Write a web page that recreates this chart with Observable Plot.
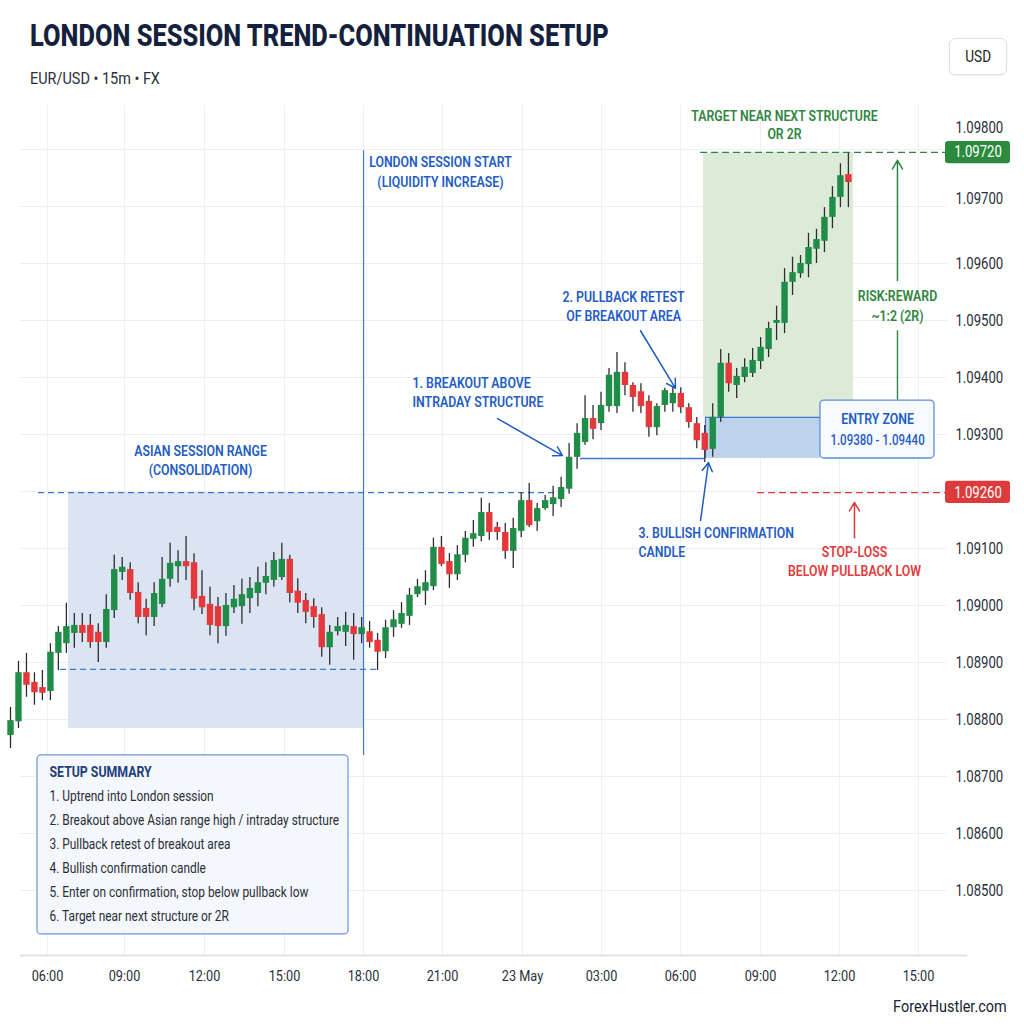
<!DOCTYPE html>
<html><head><meta charset="utf-8">
<script src="https://cdn.jsdelivr.net/npm/d3@7"></script>
<script src="https://cdn.jsdelivr.net/npm/@observablehq/plot@0.6"></script>
<style>
body{margin:0;background:#fff;font-family:Roboto,sans-serif;}
#wrap{position:relative;width:1024px;height:1024px;overflow:hidden;background:#fff}
.cond{position:absolute;white-space:nowrap;transform-origin:left top}
</style></head><body><div id="wrap">
<div id="title" class="cond" style="left:30px;top:17px;font-size:31px;font-weight:800;color:#14213d;transform:scaleX(0.82)">LONDON SESSION TREND-CONTINUATION SETUP</div>
<div id="sub" class="cond" style="left:30px;top:68px;font-size:17px;color:#2b2f3a;transform:scaleX(0.85)">EUR/USD • 15m • FX</div>
<div id="usd" style="position:absolute;left:949px;top:38px;width:58px;height:37px;box-sizing:border-box;border:1px solid #dcdfe4;border-radius:6px;box-shadow:0 1px 2px rgba(0,0,0,.06);display:flex;align-items:center;justify-content:center;font-size:16px;color:#222"><span style="display:inline-block;transform:scaleX(0.85)">USD</span></div>
<div id="chart" style="position:absolute;left:0;top:95px"></div>
<div id="credit" class="cond" style="right:17px;top:996px;font-size:17px;color:#1a2233;transform:scaleX(0.85);transform-origin:right top">ForexHustler.com</div>
</div>
<script>
// ---------- data ----------
const open  = [1.08772,1.08796,1.08882,1.08865,1.08856,1.08849,1.08916,1.08933,1.08951,1.08965,1.08965,1.08953,1.08935,1.08991,1.09058,1.09063,1.09023,1.08995,1.08979,1.09002,1.09046,1.09068,1.09077,1.09075,1.09016,1.09002,1.08998,1.08963,1.08996,1.08998,1.09012,1.09021,1.09039,1.09044,1.09049,1.09081,1.09025,1.09009,1.08998,1.08984,1.08926,1.08954,1.08953,1.08963,1.08949,1.08954,1.08939,1.08919,1.08961,1.08967,1.08981,1.09019,1.09025,1.09033,1.09102,1.09077,1.09054,1.09088,1.09116,1.09121,1.09163,1.09137,1.09128,1.09095,1.09130,1.09184,1.09147,1.09170,1.09177,1.09186,1.09204,1.09260,1.09286,1.09328,1.09319,1.09349,1.09349,1.09409,1.09386,1.09375,1.09358,1.09312,1.09351,1.09354,1.09372,1.09347,1.09319,1.09302,1.09274,1.09330,1.09425,1.09386,1.09400,1.09407,1.09428,1.09449,1.09495,1.09495,1.09567,1.09582,1.09598,1.09625,1.09639,1.09681,1.09716,1.09756];
const high  = [1.08821,1.08902,1.08916,1.08882,1.08886,1.08933,1.08963,1.09004,1.08986,1.08986,1.08984,1.08968,1.09019,1.09088,1.09084,1.09075,1.09040,1.09011,1.09040,1.09084,1.09109,1.09096,1.09121,1.09091,1.09061,1.09032,1.09014,1.09021,1.09035,1.09046,1.09049,1.09067,1.09075,1.09093,1.09109,1.09088,1.09047,1.09021,1.09012,1.08996,1.08965,1.08979,1.08988,1.08986,1.08979,1.08972,1.08951,1.08974,1.08991,1.09005,1.09030,1.09046,1.09061,1.09118,1.09121,1.09091,1.09105,1.09130,1.09149,1.09188,1.09179,1.09146,1.09144,1.09153,1.09198,1.09214,1.09179,1.09193,1.09209,1.09225,1.09284,1.09319,1.09368,1.09351,1.09374,1.09416,1.09444,1.09426,1.09391,1.09389,1.09368,1.09354,1.09381,1.09382,1.09382,1.09354,1.09330,1.09316,1.09354,1.09449,1.09442,1.09416,1.09433,1.09451,1.09470,1.09497,1.09525,1.09591,1.09611,1.09614,1.09653,1.09660,1.09698,1.09735,1.09775,1.09793];
const low   = [1.08749,1.08784,1.08839,1.08825,1.08833,1.08833,1.08886,1.08916,1.08925,1.08935,1.08925,1.08900,1.08925,1.08977,1.09044,1.09009,1.08968,1.08947,1.08963,1.08996,1.09032,1.09039,1.09044,1.08991,1.08984,1.08947,1.08933,1.08946,1.08986,1.08967,1.08986,1.08998,1.09019,1.09032,1.09044,1.09005,1.08986,1.08968,1.08960,1.08909,1.08895,1.08947,1.08928,1.08904,1.08933,1.08925,1.08886,1.08907,1.08944,1.08960,1.08965,1.09014,1.09000,1.09026,1.09068,1.09030,1.09044,1.09075,1.09102,1.09112,1.09114,1.09114,1.09081,1.09065,1.09119,1.09137,1.09130,1.09167,1.09156,1.09172,1.09195,1.09239,1.09281,1.09291,1.09307,1.09339,1.09337,1.09368,1.09339,1.09337,1.09295,1.09298,1.09339,1.09339,1.09337,1.09311,1.09275,1.09251,1.09260,1.09321,1.09374,1.09363,1.09391,1.09400,1.09414,1.09435,1.09465,1.09477,1.09544,1.09574,1.09575,1.09600,1.09619,1.09661,1.09698,1.09698];
const close = [1.08798,1.08882,1.08860,1.08847,1.08846,1.08918,1.08953,1.08963,1.08965,1.08951,1.08935,1.08935,1.08993,1.09063,1.09067,1.09021,1.08979,1.08979,1.09021,1.09046,1.09074,1.09077,1.09068,1.09011,1.08996,1.08965,1.08963,1.09000,1.09011,1.09019,1.09030,1.09040,1.09051,1.09079,1.09081,1.09021,1.09004,1.08988,1.08979,1.08926,1.08953,1.08963,1.08965,1.08949,1.08961,1.08935,1.08918,1.08961,1.08975,1.08986,1.09018,1.09033,1.09040,1.09102,1.09072,1.09054,1.09089,1.09118,1.09126,1.09163,1.09128,1.09128,1.09095,1.09135,1.09184,1.09140,1.09170,1.09184,1.09189,1.09207,1.09260,1.09302,1.09328,1.09309,1.09351,1.09404,1.09409,1.09386,1.09365,1.09349,1.09312,1.09349,1.09377,1.09372,1.09347,1.09321,1.09289,1.09272,1.09330,1.09425,1.09389,1.09402,1.09418,1.09430,1.09453,1.09486,1.09500,1.09567,1.09584,1.09600,1.09628,1.09642,1.09681,1.09716,1.09754,1.09742];

const timeLabels   = ["06:00","09:00","12:00","15:00","18:00","21:00","23 May","03:00","06:00","09:00","12:00","15:00"];
const timeTickBars = [4.64,14.29,24.31,34.34,44.24,54.14,64.16,74.06,83.96,93.98,103.88,113.78];
const priceTicks   = [1.085,1.086,1.087,1.088,1.089,1.090,1.091,1.093,1.094,1.095,1.096];
const upperTicks   = [1.097, 1.098];
const gridPrices   = [1.085,1.086,1.087,1.088,1.089,1.090,1.091,1.092,1.093,1.094,1.095,1.096,1.097,1.098];

const targetTag = "1.09720", stopTag = "1.09260";
const entryRange = "1.09380 - 1.09440";
const summaryTitle = "SETUP SUMMARY";
const summaryItems = [
  "1. Uptrend into London session",
  "2. Breakout above Asian range high / intraday structure",
  "3. Pullback retest of breakout area",
  "4. Bullish confirmation candle",
  "5. Enter on confirmation, stop below pullback low",
  "6. Target near next structure or 2R"
];

// ---------- layout (in bar / price units) ----------
const BLUE = "#1f5cc4", LINE = "#3a78d6", GREEN = "#2e8540", RED = "#e03c3c";
const UP = "#1f8c48", DOWN = "#e5383b", WICK = "#2d2d2d";

const candles = open.map((o, i) => ({i, o, h: high[i], l: low[i], c: close[i]}));
const labelAt = new Map(timeTickBars.map((b, k) => [b, timeLabels[k]]));
const upperShift = new Map([[1.097, -8], [1.098, -22]]);

const levels = {
  asianTop: 1.09198, asianBottom: 1.08888, asianLow: 1.08784,
  breakout: 1.09258, entryTop: 1.09330, target: 1.09795, stop: 1.09198
};

const rects = [
  {x1: 7.27, x2: 44.24, y1: levels.asianLow, y2: levels.asianTop, fill: "#dae4f3"},
  {x1: 86.84, x2: 105.64, y1: levels.entryTop, y2: levels.target, fill: "#dcebd8"},
  {x1: 87.09, x2: 101.5, y1: levels.breakout, y2: levels.entryTop, fill: "#bdd3eb"}
];

const blueTexts = [
  {x: 53.88, y: 1.097772, t: "LONDON SESSION START"},
  {x: 53.88, y: 1.097421, t: "(LIQUIDITY INCREASE)"},
  {x: 23.81, y: 1.092702, t: "ASIAN SESSION RANGE"},
  {x: 23.81, y: 1.092368, t: "(CONSOLIDATION)"},
  {x: 76.82, y: 1.095404, t: "2. PULLBACK RETEST"},
  {x: 76.82, y: 1.095070, t: "OF BREAKOUT AREA"},
  {x: 108.65, y: 1.093263, t: "ENTRY ZONE"}
];
const blueLeftTexts = [
  {x: 50.38, y: 1.093895, t: "1. BREAKOUT ABOVE"},
  {x: 50.38, y: 1.093561, t: "INTRADAY STRUCTURE"},
  {x: 78.70, y: 1.091263, t: "3. BULLISH CONFIRMATION"},
  {x: 78.70, y: 1.090930, t: "CANDLE"}
];
const greenTexts = [
  {x: 96.99, y: 1.098579, t: "TARGET NEAR NEXT STRUCTURE"},
  {x: 96.99, y: 1.098263, t: "OR 2R"},
  {x: 111.15, y: 1.095421, t: "RISK:REWARD"},
  {x: 111.15, y: 1.095070, t: "~1:2 (2R)"}
];
const redTexts = [
  {x: 105.76, y: 1.090930, t: "STOP-LOSS"},
  {x: 105.76, y: 1.090596, t: "BELOW PULLBACK LOW"}
];

const arrows = [
  {x1: 61.03, y1: 1.09328, x2: 69.17, y2: 1.09263, s: BLUE},
  {x1: 78.95, y1: 1.09482, x2: 83.33, y2: 1.09381, s: BLUE},
  {x1: 86.47, y1: 1.09149, x2: 87.47, y2: 1.09251, s: BLUE},
  {x1: 111.15, y1: 1.09570, x2: 111.15, y2: 1.09781, s: GREEN},
  {x1: 105.76, y1: 1.09119, x2: 105.76, y2: 1.09181, s: RED}
];

const hlines = [
  {y: levels.asianTop, x1: 3.51, x2: 69.55, s: LINE, dash: "6,4", w: 1.3},
  {y: levels.asianBottom, x1: 6.27, x2: 46.37, s: LINE, dash: "6,4", w: 1.3},
  {y: levels.breakout, x1: 71.43, x2: 87.09, s: LINE, dash: null, w: 1.6},
  {y: levels.target, x1: 86.47, x2: 117.17, s: GREEN, dash: "7,4", w: 1.4},
  {y: levels.stop, x1: 93.61, x2: 117.17, s: RED, dash: "7,4", w: 1.3}
];

const tags = [
  {y1: 1.09775, y2: 1.09814, y: levels.target, t: targetTag, fill: "#2b8a3e"},
  {y1: 1.09179, y2: 1.09218, y: levels.stop, t: stopTag, fill: "#dd3b3b"}
];

const summaryBox = {x1: 3.38, x2: 42.36, y1: 1.08423, y2: 1.08737};
const summaryY = [1.086649, 1.086228, 1.085807, 1.085386, 1.084965, 1.084544];
const summaryRows = summaryItems.map((t, k) => ({t, x: 4.89, y: summaryY[k]}));

const chart = Plot.plot({
  width: 1024, height: 929,
  marginTop: 10, marginBottom: 69, marginLeft: 0, marginRight: 85,
  x: {type: "linear", domain: [-1.2531, 116.416]},
  y: {type: "linear", domain: [1.0838596, 1.0987719]},
  style: {fontFamily: "Roboto, sans-serif", color: "#2a2f3a", background: "transparent", overflow: "visible"},
  marks: [
    Plot.ruleX(timeTickBars, {x: d => d, stroke: "#edeff2", strokeWidth: 1}),
    Plot.ruleY(gridPrices, {y: d => d, x1: () => 1.25, x2: () => 117.42, stroke: "#edeff2", strokeWidth: 1}),
    Plot.ruleY([1.0838596], {y: d => d, x1: () => 1.25, x2: () => 119.92, stroke: "#dfe2e6", strokeWidth: 2}),
    Plot.rect(rects, {x1: "x1", x2: "x2", y1: "y1", y2: "y2", fill: d => d.fill}),
    Plot.ruleY([rects[2]], {y: "y2", x1: "x1", x2: "x2", stroke: LINE, strokeWidth: 1.4}),
    Plot.ruleX([rects[2]], {x: "x1", y1: "y1", y2: "y2", stroke: LINE, strokeWidth: 1.2}),
    Plot.ruleX([44.24], {x: d => d, y1: () => 1.08737, y2: () => 1.09798, stroke: LINE, strokeWidth: 1.2}),
    ...hlines.map(h => Plot.ruleY([h], {y: "y", x1: "x1", x2: "x2", stroke: h.s, strokeWidth: h.w, strokeDasharray: h.dash})),
    Plot.ruleX([111.15], {x: d => d, y1: () => 1.09360, y2: () => 1.09482, stroke: GREEN, strokeWidth: 1.4}),
    Plot.ruleX(candles, {x: "i", y1: "l", y2: "h", stroke: WICK, strokeWidth: 1.3}),
    Plot.ruleX(candles.filter(d => d.c >= d.o), {x: "i", y1: "o", y2: "c", stroke: UP, strokeWidth: 6.4}),
    Plot.ruleX(candles.filter(d => d.c < d.o), {x: "i", y1: "o", y2: "c", stroke: DOWN, strokeWidth: 6.4}),
    ...arrows.map(a => Plot.arrow([a], {x1: "x1", y1: "y1", x2: "x2", y2: "y2", stroke: a.s, strokeWidth: 1.5, headLength: 10})),
    // entry label box
    Plot.rect([{x1: 101.5, x2: 115.79, y1: 1.092579, y2: 1.093596}], {x1: "x1", x2: "x2", y1: "y1", y2: "y2", fill: "#f7fafe", stroke: "#5d8fdc", strokeWidth: 1.3, rx: 4}),
    Plot.text([{x: 108.65, y: 1.092895, t: entryRange}], {x: "x", y: "y", text: "t", fill: BLUE, fontSize: 14, fontWeight: 500}),
    // tags
    Plot.rect(tags, {x1: () => 117.17, x2: () => 125.31, y1: "y1", y2: "y2", fill: d => d.fill, rx: 3}),
    Plot.text(tags, {x: () => 121.24, y: "y", text: "t", fill: "white", fontSize: 16}),
    // annotation texts
    Plot.text(blueTexts, {x: "x", y: "y", text: "t", fill: BLUE, fontSize: 15, fontWeight: 600}),
    Plot.text(blueLeftTexts, {x: "x", y: "y", text: "t", fill: BLUE, fontSize: 15, fontWeight: 600, textAnchor: "start"}),
    Plot.text(greenTexts, {x: "x", y: "y", text: "t", fill: GREEN, fontSize: 15, fontWeight: 600}),
    Plot.text(redTexts, {x: "x", y: "y", text: "t", fill: RED, fontSize: 15, fontWeight: 600}),
    // summary
    Plot.rect([summaryBox], {x1: "x1", x2: "x2", y1: "y1", y2: "y2", fill: "#f4f7fc", stroke: "#6d96d8", strokeWidth: 1.2, rx: 4}),
    Plot.text([{x: 4.89, y: 1.08707, t: summaryTitle}], {x: "x", y: "y", text: "t", textAnchor: "start", fill: "#1d3e78", fontSize: 15, fontWeight: 700}),
    Plot.text(summaryRows, {x: "x", y: "y", text: "t", textAnchor: "start", fill: "#2a2e36", fontSize: 14.5}),
    // axes
    Plot.axisY(priceTicks, {anchor: "right", tickSize: 0, tickPadding: 16, tickFormat: d => d.toFixed(5), fontSize: 16, label: null}),
    ...upperTicks.map(v => Plot.axisY([v], {anchor: "right", tickSize: 0, tickPadding: 16, tickFormat: d => d.toFixed(5), fontSize: 16, label: null, dy: upperShift.get(v)})),
    Plot.axisX(timeTickBars, {anchor: "bottom", tickSize: 0, tickPadding: 14, tickFormat: d => labelAt.get(d), fontSize: 15.5, label: null})
  ]
});

document.getElementById("chart").appendChild(chart);

// condensed look: shrink each text's advance width while keeping its anchor
chart.querySelectorAll("text").forEach(t => {
  const spans = t.querySelectorAll("tspan");
  const els = spans.length ? Array.from(spans) : [t];
  els.forEach(el => {
    const L = el.getComputedTextLength();
    if (L > 0) {
      el.setAttribute("textLength", (L * 0.82).toFixed(2));
      el.setAttribute("lengthAdjust", "spacingAndGlyphs");
    }
  });
});
</script></body></html>
